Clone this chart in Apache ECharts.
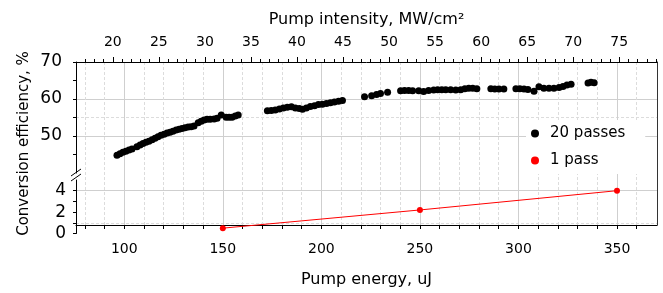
<!DOCTYPE html>
<html>
<head>
<meta charset="utf-8">
<script src="https://cdn.jsdelivr.net/npm/echarts@6/dist/echarts.min.js"></script>
<style>
    html, body { margin: 0; padding: 0; background: #fff; }
    #chart { width: 663px; height: 293px; }
</style>
</head>
<body>
<div id="chart"></div>
<script>
// 20 passes (pump energy, uJ / conversion efficiency, %)
let energy20 = [96.3, 97.8, 99.3, 100.8, 102.4, 103.9,
    106.4, 108.0, 109.5, 111.0, 112.5, 114.1, 115.6, 117.1, 118.6, 120.2, 121.7, 123.2, 124.7, 126.3, 127.8, 129.3, 130.8, 132.4, 133.9, 135.4,
    137.5, 139.0, 140.5, 142.0, 143.6, 145.6, 147.1, 149.2, 151.7, 153.2, 154.7, 156.3, 157.8,
    172.6, 174.6, 176.6, 178.7, 180.7, 182.7, 184.8, 186.8, 188.8, 190.4, 192.4, 194.4, 196.5, 198.5, 200.5, 202.6, 204.6, 206.6, 208.7, 210.7,
    221.9, 225.5, 228.0, 230.0, 233.6,
    240.2, 242.2, 244.3, 246.3, 249.4, 251.9, 254.4, 257.0, 259.0, 261.1, 263.1, 265.6, 268.2, 270.7, 272.8, 274.8, 276.8, 278.9,
    286.0, 288.0, 290.1, 292.6,
    298.7, 300.7, 302.8, 304.8, 307.9, 310.4, 312.9, 315.5, 318.0, 320.6, 322.6, 324.6, 326.7,
    335.3, 336.8, 338.4];
let eff20 = [44.8, 45.2, 45.6, 45.9, 46.2, 46.5,
    47.1, 47.6, 48.0, 48.3, 48.6, 49.0, 49.4, 49.8, 50.2, 50.5, 50.8, 51.0, 51.3, 51.6, 51.8, 52.0, 52.2, 52.4, 52.5, 52.7,
    53.6, 54.0, 54.3, 54.5, 54.5, 54.6, 54.8, 55.7, 55.1, 55.1, 55.1, 55.4, 55.7,
    56.8, 56.9, 57.0, 57.3, 57.6, 57.8, 57.9, 57.6, 57.4, 57.2, 57.6, 58.0, 58.2, 58.5, 58.6, 58.8, 59.0, 59.2, 59.4, 59.6,
    60.6, 60.9, 61.2, 61.5, 61.8,
    62.2, 62.3, 62.3, 62.2, 62.2, 62.0, 62.3, 62.4, 62.5, 62.5, 62.5, 62.5, 62.4, 62.5, 62.8, 62.9, 62.9, 62.8,
    62.8, 62.7, 62.7, 62.7,
    62.8, 62.8, 62.7, 62.6, 62.1, 63.3, 62.9, 62.9, 62.9, 63.1, 63.4, 63.8, 64.0,
    64.3, 64.5, 64.4];

// 1 pass
let energy1 = [150, 250, 350];
let eff1 = [0.5, 2.2, 4.0];

// tick labels
let energyLabels = [100, 150, 200, 250, 300, 350];
let energyTicks = [80, 90, 100, 110, 120, 130, 140, 150, 160, 170, 180, 190, 200, 210, 220, 230, 240, 250, 260, 270, 280, 290, 300, 310, 320, 330, 340, 350, 360];
let energyMinorGrid = [80, 90, 110, 120, 130, 140, 160, 170, 180, 190, 210, 220, 230, 240, 260, 270, 280, 290, 310, 320, 330, 340, 360];
let intensityLabels = [20, 25, 30, 35, 40, 45, 50, 55, 60, 65, 70, 75];
let intensityMinor = [17, 18, 19, 21, 22, 23, 24, 26, 27, 28, 29, 31, 32, 33, 34, 36, 37, 38, 39, 41, 42, 43, 44, 46, 47, 48, 49,
    51, 52, 53, 54, 56, 57, 58, 59, 61, 62, 63, 64, 66, 67, 68, 69, 71, 72, 73, 74, 76, 77, 78, 79];
let effTopLabels = [50, 60, 70];
let effTopTicks = [45, 50, 55, 60, 65, 70];
let effLowLabels = [0, 2, 4];
let effLowTicks = [0, 1, 2, 3, 4];

let FONT = 'DejaVu Sans';
let E_MIN = 75.5, E_MAX = 370.3; // 能量轴范围
let I_MIN = 16.0, I_MAX = 79.1; // 强度轴范围

let chart = echarts.init(document.getElementById('chart'));

// hidden axis helper (only split lines)
function gridAxis(extra) {
    return Object.assign({
        type: 'value',
        axisLine: { show: false, onZero: false },
        axisTick: { show: false },
        axisLabel: { show: false },
        splitLine: { show: false }
    }, extra);
}

let solidGrid = { show: true, lineStyle: { color: '#cfcfcf', width: 1 } };
let dashGrid = { show: true, lineStyle: { color: '#dcdcdc', width: 1, type: [3, 2] } };

let option = {
    animation: false,
    textStyle: { fontFamily: FONT },
    grid: [
        { left: 76, right: 6, top: 62, height: 171.5 }, // frame
        { left: 76, right: 6, top: 62, height: 111 },   // 40 - 70
        { left: 76, right: 6, top: 180, height: 53.5 }  // 0 - 5
    ],
    xAxis: [
        {
            type: 'value', gridIndex: 0, position: 'bottom', min: E_MIN, max: E_MAX,
            name: 'Pump energy, uJ', nameLocation: 'middle', nameGap: 47,
            nameTextStyle: { fontFamily: FONT, fontSize: 16, color: '#000' },
            axisLine: { show: true, onZero: false, lineStyle: { color: '#000', width: 1 } },
            axisTick: { show: true, length: 4, customValues: energyTicks, lineStyle: { color: '#000' } },
            axisLabel: { customValues: energyLabels, fontFamily: FONT, fontSize: 14, color: '#000', margin: 17 },
            splitLine: { show: false }
        },
        {
            type: 'value', gridIndex: 0, position: 'top', min: I_MIN, max: I_MAX,
            name: 'Pump intensity, MW/cm²', nameLocation: 'middle', nameGap: 34,
            nameTextStyle: { fontFamily: FONT, fontSize: 16, color: '#000' },
            axisLine: { show: true, onZero: false, lineStyle: { color: '#000', width: 1 } },
            axisTick: { show: true, length: 5, customValues: intensityLabels, lineStyle: { color: '#000' } },
            axisLabel: { customValues: intensityLabels, fontFamily: FONT, fontSize: 14, color: '#000', margin: 13 },
            splitLine: { show: false }
        },
        gridAxis({
            gridIndex: 0, position: 'top', min: I_MIN, max: I_MAX,
            axisTick: { show: true, length: 3, customValues: intensityMinor, lineStyle: { color: '#000' } }
        }),
        gridAxis({ gridIndex: 0, position: 'bottom', min: E_MIN, max: E_MAX, axisTick: { show: false, customValues: energyLabels }, splitLine: solidGrid }),
        gridAxis({ gridIndex: 0, position: 'bottom', min: E_MIN, max: E_MAX, axisTick: { show: false, customValues: energyMinorGrid }, splitLine: dashGrid }),
        gridAxis({ gridIndex: 1, min: E_MIN, max: E_MAX }),
        gridAxis({ gridIndex: 2, min: E_MIN, max: E_MAX })
    ],
    yAxis: [
        gridAxis({
            gridIndex: 0, position: 'left', min: 0, max: 1,
            name: 'Conversion efficiency, %', nameLocation: 'middle', nameGap: 44,
            nameTextStyle: { fontFamily: FONT, fontSize: 15, color: '#000' }
        }),
        gridAxis({
            gridIndex: 0, position: 'right', min: 0, max: 1,
            axisLine: { show: true, onZero: false, lineStyle: { color: '#333', width: 1 } }
        }),
        {
            type: 'value', gridIndex: 1, position: 'left', min: 40, max: 70,
            axisLine: { show: true, onZero: false, lineStyle: { color: '#000', width: 1 } },
            axisTick: { show: true, length: 3, customValues: effTopTicks, lineStyle: { color: '#000' } },
            axisLabel: { customValues: effTopLabels, fontFamily: FONT, fontSize: 17, color: '#000', margin: 14 },
            splitLine: { show: false }
        },
        gridAxis({ gridIndex: 1, position: 'left', min: 40, max: 70, axisTick: { show: false, customValues: [50, 60] }, splitLine: solidGrid }),
        gridAxis({ gridIndex: 1, position: 'left', min: 40, max: 70, axisTick: { show: false, customValues: [55] }, splitLine: dashGrid }),
        {
            type: 'value', gridIndex: 2, position: 'left', min: 0, max: 5,
            axisLine: { show: true, onZero: false, lineStyle: { color: '#000', width: 1 } },
            axisTick: { show: true, length: 3, customValues: effLowTicks, lineStyle: { color: '#000' } },
            axisLabel: { customValues: effLowLabels, fontFamily: FONT, fontSize: 17, color: '#000', margin: 10 },
            splitLine: { show: false }
        },
        gridAxis({ gridIndex: 2, position: 'left', min: 0, max: 5, axisTick: { show: false, customValues: [4] }, splitLine: solidGrid }),
        gridAxis({ gridIndex: 2, position: 'left', min: 0, max: 5, axisTick: { show: false, customValues: [1] }, splitLine: dashGrid })
    ],
    legend: {
        orient: 'vertical',
        left: 526, top: 120,
        padding: [6, 20, 6, 5],
        backgroundColor: '#fff',
        itemWidth: 20, itemHeight: 8, itemGap: 12,
        textStyle: { fontFamily: FONT, fontSize: 15, color: '#000' },
        data: [
            { name: '20 passes', icon: 'circle' },
            { name: '1 pass', icon: 'circle' }
        ],
        z: 20
    },
    series: [
        {
            name: '20 passes',
            type: 'scatter',
            xAxisIndex: 5, yAxisIndex: 2,
            data: energy20.map((e, i) => [e, eff20[i]]),
            symbolSize: 7,
            itemStyle: { color: '#000', opacity: 1 }
        },
        {
            name: '1 pass',
            type: 'line',
            xAxisIndex: 6, yAxisIndex: 5,
            data: energy1.map((e, i) => [e, eff1[i]]),
            symbol: 'circle', symbolSize: 6,
            lineStyle: { color: '#ff0000', width: 1 },
            itemStyle: { color: '#ff0000' }
        }
    ],
    // axis break marks //
    graphic: [
        { type: 'line', z: 100, shape: { x1: 71, y1: 176, x2: 81, y2: 169 }, style: { stroke: '#000', lineWidth: 1 } },
        { type: 'line', z: 100, shape: { x1: 71, y1: 181, x2: 81, y2: 174 }, style: { stroke: '#000', lineWidth: 1 } }
    ]
};

chart.setOption(option);
</script>
</body>
</html>
